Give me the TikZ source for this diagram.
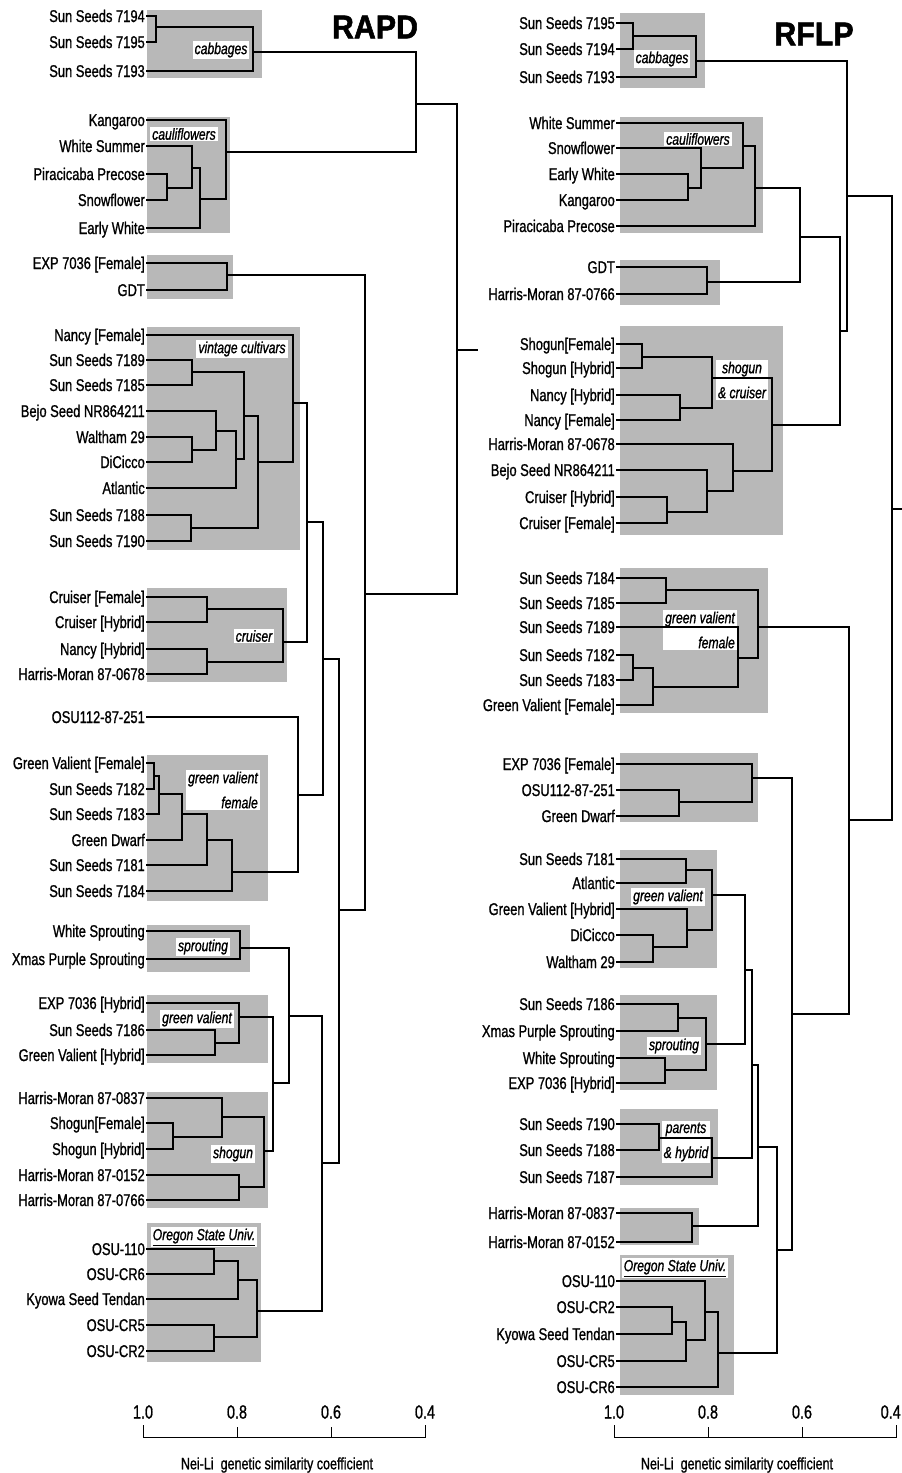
\documentclass[tikz,border=0pt]{standalone}
\usepackage{fontspec}
\setmainfont{Liberation Sans}[FakeStretch=0.76, FakeBold=1]
\newfontfamily\ttlfont{Liberation Sans}[FakeStretch=0.92, FakeBold=1.6]

\begin{document}
\begin{tikzpicture}[x=1pt, y=-1pt,
    leaf/.style={anchor=east, inner sep=1pt, text height=12pt, text depth=0pt,
                 font=\fontsize{17}{20}\selectfont},
    grp/.style={fill=black!28},
    tag/.style={fill=white, inner xsep=2pt, inner ysep=1.5pt,
                font=\fontsize{16}{19}\selectfont\itshape},
    tagtwo/.style={tag, align=right, font=\fontsize{16}{25}\selectfont\itshape},
    den/.style={line width=1.1pt},
    ttl/.style={font=\fontsize{33}{36}\selectfont\ttlfont\bfseries},
    tick/.style={font=\fontsize{19}{22}\selectfont, inner sep=0pt},
    axiscap/.style={font=\fontsize{16.5}{19}\selectfont, inner sep=0pt},
    axis/.style={line width=0.9pt}
  ]
  \useasboundingbox (0,0) rectangle (902,1473);

  % shaded groups
  \foreach \xa/\ya/\xb/\yb in {147/10/262/78, 147/117/230/233, 147/255/233/299,
      147/327/300/550, 147/588/287/682, 147/755/268/901, 147/925/250/972,
      147/995/268/1063, 147/1092/268/1208, 147/1223/261/1362,
      620/13/705/88, 620/117/763/233, 620/260/720/305, 620/326/783/535,
      620/568/768/713, 620/753/758/822, 620/850/717/968, 620/995/717/1090,
      620/1109/718/1185, 620/1208/699/1245, 620/1255/734/1395}
    \fill[grp] (\xa,\ya) rectangle (\xb,\yb);

  % group tags
  \node[tag] (tca) at (221,50) {cabbages};
  \node[tag] (tcf) at (184,134) {cauliflowers};
  \node[tag] (tvc) at (242,349) {vintage cultivars};
  \node[tag] (tcr) at (254,636) {cruiser};
  \node[tagtwo] (tgf) at (223,790) {green valient\\female};
  \node[tag] (tsp) at (203,947) {sprouting};
  \node[tag] (tgv) at (197,1019) {green valient};
  \node[tag] (tsh) at (233,1154) {shogun};
  \node[tag] (tos) at (204,1237) {\underline{Oregon State Univ.}};

  \node[tag] (uca) at (662,59) {cabbages};
  \node[tag] (ucf) at (698,139) {cauliflowers};
  \node[tagtwo, align=center] (usc) at (742,380) {shogun\\\& cruiser};
  \node[tagtwo] (ugf) at (700,630) {green valient\\female};
  \node[tag] (ugv) at (668,897) {green valient};
  \node[tag] (usp) at (674,1046) {sprouting};
  \node[tagtwo, align=center] (uph) at (686,1142) {parents\\\& hybrid};
  \node[tag] (uos) at (675,1268) {\underline{Oregon State Univ.}};

  % RAPD leaves
  \foreach \n/\y/\lab in {ra1/16/Sun Seeds 7194, ra2/42/Sun Seeds 7195, ra3/71/Sun Seeds 7193,
      ra4/120/Kangaroo, ra5/146/White Summer, ra6/174/Piracicaba Precose,
      ra7/200/Snowflower, ra8/228/Early White,
      ra9/263/EXP 7036 [Female], ra10/290/GDT,
      ra11/335/Nancy [Female], ra12/360/Sun Seeds 7189, ra13/385/Sun Seeds 7185,
      ra14/411/Bejo Seed NR864211, ra15/437/Waltham 29, ra16/462/DiCicco,
      ra17/488/Atlantic, ra18/515/Sun Seeds 7188, ra19/541/Sun Seeds 7190,
      ra20/597/Cruiser [Female], ra21/622/Cruiser [Hybrid], ra22/649/Nancy [Hybrid],
      ra23/674/Harris-Moran 87-0678,
      ra24/717/OSU112-87-251,
      ra25/763/Green Valient [Female], ra26/789/Sun Seeds 7182, ra27/814/Sun Seeds 7183,
      ra28/840/Green Dwarf, ra29/865/Sun Seeds 7181, ra30/891/Sun Seeds 7184,
      ra31/931/White Sprouting, ra32/959/Xmas Purple Sprouting,
      ra33/1003/EXP 7036 [Hybrid], ra34/1030/Sun Seeds 7186, ra35/1055/Green Valient [Hybrid],
      ra36/1098/Harris-Moran 87-0837, ra37/1123/Shogun[Female], ra38/1149/Shogun [Hybrid],
      ra39/1175/Harris-Moran 87-0152, ra40/1200/Harris-Moran 87-0766,
      ra41/1249/OSU-110, ra42/1274/OSU-CR6, ra43/1299/Kyowa Seed Tendan,
      ra44/1325/OSU-CR5, ra45/1351/OSU-CR2}
    \node[leaf] (\n) at (146,\y) {\lab};

  % RAPD joins
  \foreach \n/\x/\y in {ca1/156/27, ca2/253/52, cf1/167/188, cf2/192/168, cf3/200/199,
      cf4/226/152, ratop/416/104,
      g1/227/275, v1/192/372, v2/192/450, v3/216/431, v4/236/459, v5/244/416,
      v6/191/528, v7/258/462, v8/293/403,
      c1/207/609, c2/207/662, c3/283/642, vc/307/522,
      f1/154/776, f2/159/794, f3/182/814, f4/207/840, f5/232/872, f6/298/795, vf/323/659,
      s1/240/948, h1/215/1043, h2/239/1017, o1/173/1137, o2/222/1117, o3/239/1187,
      o4/264/1151, h3/273/1083, s2/289/1016,
      u1/214/1261, u2/238/1280, u3/214/1337, u4/257/1311, s3/322/1163,
      vs/339/910, gv/365/594, raroot/457/350, rastub/478/350}
    \coordinate (\n) at (\x,\y);

  \foreach \c/\p in {ra1/ca1, ra2/ca1, ca1/ca2, ra3/ca2, ra6/cf1, ra7/cf1, ra5/cf2, cf1/cf2,
      cf2/cf3, ra8/cf3, ra4/cf4, cf3/cf4, ca2/ratop, cf4/ratop,
      ra9/g1, ra10/g1, ra12/v1, ra13/v1, ra15/v2, ra16/v2, ra14/v3, v2/v3, v3/v4, ra17/v4,
      v1/v5, v4/v5, ra18/v6, ra19/v6, v5/v7, v6/v7, ra11/v8, v7/v8,
      ra20/c1, ra21/c1, ra22/c2, ra23/c2, c1/c3, c2/c3, v8/vc, c3/vc,
      ra25/f1, ra26/f1, f1/f2, ra27/f2, f2/f3, ra28/f3, f3/f4, ra29/f4, f4/f5, ra30/f5,
      ra24/f6, f5/f6, vc/vf, f6/vf,
      ra31/s1, ra32/s1, ra34/h1, ra35/h1, ra33/h2, h1/h2, ra37/o1, ra38/o1, ra36/o2, o1/o2,
      ra39/o3, ra40/o3, o2/o4, o3/o4, h2/h3, o4/h3, s1/s2, h3/s2,
      ra41/u1, ra42/u1, u1/u2, ra43/u2, ra44/u3, ra45/u3, u2/u4, u3/u4, s2/s3, u4/s3,
      vf/vs, s3/vs, g1/gv, vs/gv, ratop/raroot, gv/raroot, raroot/rastub}
    \draw[den] (\c) -| (\p);

  % RFLP leaves
  \foreach \n/\y/\lab in {rf1/23/Sun Seeds 7195, rf2/49/Sun Seeds 7194, rf3/77/Sun Seeds 7193,
      rf4/123/White Summer, rf5/148/Snowflower, rf6/174/Early White, rf7/200/Kangaroo,
      rf8/226/Piracicaba Precose,
      rf9/267/GDT, rf10/294/Harris-Moran 87-0766,
      rf11/344/Shogun[Female], rf12/368/Shogun [Hybrid], rf13/395/Nancy [Hybrid],
      rf14/420/Nancy [Female], rf15/444/Harris-Moran 87-0678, rf16/470/Bejo Seed NR864211,
      rf17/497/Cruiser [Hybrid], rf18/523/Cruiser [Female],
      rf19/578/Sun Seeds 7184, rf20/603/Sun Seeds 7185, rf21/627/Sun Seeds 7189,
      rf22/655/Sun Seeds 7182, rf23/680/Sun Seeds 7183, rf24/705/Green Valient [Female],
      rf25/764/EXP 7036 [Female], rf26/790/OSU112-87-251, rf27/816/Green Dwarf,
      rf28/859/Sun Seeds 7181, rf29/883/Atlantic, rf30/909/Green Valient [Hybrid],
      rf31/935/DiCicco, rf32/962/Waltham 29,
      rf33/1004/Sun Seeds 7186, rf34/1031/Xmas Purple Sprouting, rf35/1058/White Sprouting,
      rf36/1083/EXP 7036 [Hybrid],
      rf37/1124/Sun Seeds 7190, rf38/1150/Sun Seeds 7188, rf39/1177/Sun Seeds 7187,
      rf40/1213/Harris-Moran 87-0837, rf41/1242/Harris-Moran 87-0152,
      rf42/1281/OSU-110, rf43/1307/OSU-CR2, rf44/1334/Kyowa Seed Tendan,
      rf45/1361/OSU-CR5, rf46/1387/OSU-CR6}
    \node[leaf] (\n) at (616,\y) {\lab};

  % RFLP joins
  \foreach \n/\x/\y in {bca1/633/36, bca2/696/61, bcf1/688/188, bcf2/701/168, bcf3/743/146,
      bcf4/755/188, bg1/707/282, bcg/800/237,
      bs1/642/357, bs2/680/408, bs3/712/378, bc1/667/512, bc2/707/491, bc3/733/471,
      bs4/772/425, bmid/840/331, btop/847/196,
      bf1/666/590, bf2/633/668, bf3/653/687, bf4/738/658, bf5/758/627,
      be1/679/802, be2/752/778, bh1/686/870, bh2/653/947, bh3/687/930, bh4/712/895,
      bp1/678/1018, bp2/665/1070, bp3/706/1044, bh5/745/970, bq1/659/1138, bq2/712/1158,
      bh6/752/1065, bm1/692/1226, bh7/758/1147,
      bu1/672/1322, bu2/686/1340, bu3/705/1312, bu4/718/1353, bh8/777/1250,
      bl/792/1014, bgl/849/820, broot/892/509, rfstub/902/509}
    \coordinate (\n) at (\x,\y);

  \foreach \c/\p in {rf1/bca1, rf2/bca1, bca1/bca2, rf3/bca2, rf6/bcf1, rf7/bcf1, rf5/bcf2,
      bcf1/bcf2, rf4/bcf3, bcf2/bcf3, bcf3/bcf4, rf8/bcf4, rf9/bg1, rf10/bg1, bcf4/bcg, bg1/bcg,
      rf11/bs1, rf12/bs1, rf13/bs2, rf14/bs2, bs1/bs3, bs2/bs3, rf17/bc1, rf18/bc1, rf16/bc2,
      bc1/bc2, rf15/bc3, bc2/bc3, bs3/bs4, bc3/bs4, bcg/bmid, bs4/bmid, bca2/btop, bmid/btop,
      rf19/bf1, rf20/bf1, rf22/bf2, rf23/bf2, bf2/bf3, rf24/bf3, rf21/bf4, bf3/bf4, bf1/bf5, bf4/bf5,
      rf26/be1, rf27/be1, rf25/be2, be1/be2, rf28/bh1, rf29/bh1, rf31/bh2, rf32/bh2, rf30/bh3,
      bh2/bh3, bh1/bh4, bh3/bh4,
      rf33/bp1, rf34/bp1, rf35/bp2, rf36/bp2, bp1/bp3, bp2/bp3, bh4/bh5, bp3/bh5,
      rf37/bq1, rf38/bq1, bq1/bq2, rf39/bq2, bh5/bh6, bq2/bh6,
      rf40/bm1, rf41/bm1, bh6/bh7, bm1/bh7, rf43/bu1, rf44/bu1, bu1/bu2, rf45/bu2, rf42/bu3,
      bu2/bu3, bu3/bu4, rf46/bu4, bh7/bh8, bu4/bh8,
      be2/bl, bh8/bl, bf5/bgl, bl/bgl, btop/broot, bgl/broot, broot/rfstub}
    \draw[den] (\c) -| (\p);

  % titles
  \node[ttl] (rapd) at (375,27) {RAPD};
  \node[ttl] (rflp) at (814,34) {RFLP};

  % similarity scales
  \foreach \v/\x in {1.0/143, 0.8/237, 0.6/331, 0.4/425}
    \node[tick] (ta\x) at (\x,1412) {\v};
  \draw[axis] (143,1425) |- (425,1437) -- (425,1425);
  \foreach \x in {237,331} \draw[axis] (\x,1437) -- (\x,1427);
  \node[axiscap] (capa) at (277,1465) {Nei-Li\ \ genetic similarity coefficient};

  \foreach \v/\x in {1.0/614, 0.8/708, 0.6/802}
    \node[tick] (tb\x) at (\x,1412) {\v};
  \node[tick, anchor=east] (tb896) at (901,1412) {0.4};
  \draw[axis] (614,1425) |- (896,1437) -- (896,1425);
  \foreach \x in {708,802} \draw[axis] (\x,1437) -- (\x,1427);
  \node[axiscap] (capb) at (737,1465) {Nei-Li\ \ genetic similarity coefficient};
\end{tikzpicture}
\end{document}
